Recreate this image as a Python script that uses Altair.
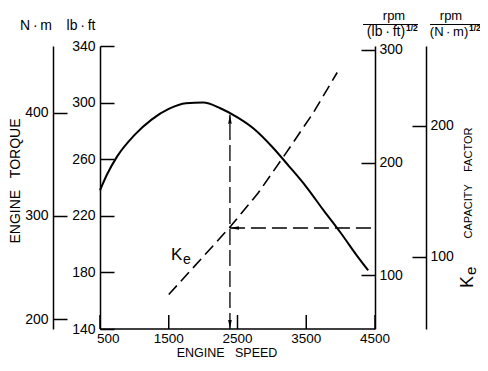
import altair as alt
import pandas as pd

# ---------------- data ----------------
rpm_torque = [500, 600, 750, 1000, 1250, 1500, 1750, 2000, 2250, 2500,
              2750, 3000, 3250, 3500, 3750, 4000, 4250, 4400]
torque_lbft = [238, 249, 262, 277, 288, 295.5, 299.5, 300, 296, 289.5,
               281, 269, 255, 240.5, 224, 208, 191, 181.5]

rpm_ke = [1500, 2000, 2400, 2800, 3200, 3600, 3950]
ke_lbft = [83, 116.5, 143.5, 173, 208, 244, 280]

op_rpm = [2390]
op_torque = [291.5]
op_base = [140]
op_ke = [142]
op_end = [4500]

x_ticks = [500, 1500, 2500, 3500, 4500]
lbft_ticks = [140, 180, 220, 260, 300, 340]
nm_ticks = [200, 300, 400]
ke_lbft_ticks = [100, 200, 300]
ke_nm_ticks = [100, 200]

LBFT_TO_NM = 1.35582
SQRT_LBFT_TO_NM = 1.16440

# ---------------- layout ----------------
W, H = 275, 283
TICK = 14
FONT = "Liberation Sans"


def xs():
    return alt.Scale(domain=[500, 4500], nice=False, zero=False)


def s_lbft():
    return alt.Scale(domain=[140, 340], nice=False, zero=False)


def s_nm():
    return alt.Scale(domain=[190.4, 464.4], nice=False, zero=False)


def s_kl():
    return alt.Scale(domain=[52.4, 303.5], nice=False, zero=False)


def s_kn():
    return alt.Scale(domain=[52.4 / SQRT_LBFT_TO_NM, 303.5 / SQRT_LBFT_TO_NM], nice=False, zero=False)


def left_axis(values, at):
    # axis line at pixel x=at, ticks pointing right, labels on the left
    return alt.Axis(orient="right", offset=at - W, values=values, tickSize=TICK,
                    labelPadding=-(TICK + 5), labelAlign="right", labelBaseline="middle",
                    title=None, grid=False, labelOverlap=False)


def right_axis(values, at):
    # axis line at pixel x=at, ticks pointing left, labels on the right
    return alt.Axis(orient="left", offset=-at, values=values, tickSize=TICK,
                    labelPadding=-(TICK + 4), labelAlign="left", labelBaseline="middle",
                    title=None, grid=False, labelOverlap=False)


df_t = pd.DataFrame({"rpm": rpm_torque, "lbft": torque_lbft})
df_t["nm"] = df_t["lbft"] * LBFT_TO_NM
df_k = pd.DataFrame({"rpm": rpm_ke, "k": ke_lbft})
df_k["kn"] = df_k["k"] / SQRT_LBFT_TO_NM
df_op = pd.DataFrame({"rpm": op_rpm, "torque": op_torque, "base": op_base,
                      "ke": op_ke, "rpm_end": op_end})
df_xt = pd.DataFrame({"rpm": x_ticks, "label": [str(v) for v in x_ticks]})
df_xd = pd.DataFrame({"x0": [x_ticks[0]], "x1": [x_ticks[-1]]})


def X(field="rpm:Q"):
    return alt.X(field, scale=xs(), axis=None)


ARROW_UP = "M0,-1L0.4,1L-0.4,1Z"
ARROW_DOWN = "M0,1L0.4,-1L-0.4,-1Z"
ARROW_LEFT = "M-1,0L1,-0.4L1,0.4Z"

# engine-speed axis: baseline, inward ticks, labels
x_domain = alt.Chart(df_xd).mark_rule(color="black", strokeWidth=1.5).encode(
    x=X("x0:Q"), x2="x1:Q", y=alt.value(H))
x_tickmarks = alt.Chart(df_xt).mark_rule(color="black", strokeWidth=1.5).encode(
    x=X(), y=alt.value(H), y2=alt.value(H - TICK))
x_label_first = alt.Chart(df_xt.iloc[:1]).mark_text(
    align="left", baseline="top", dx=-3, font=FONT, fontSize=13.5, color="black").encode(
    x=X(), y=alt.value(H + 3), text="label:N")
x_label_rest = alt.Chart(df_xt.iloc[1:]).mark_text(
    align="center", baseline="top", font=FONT, fontSize=13.5, color="black").encode(
    x=X(), y=alt.value(H + 3), text="label:N")

# torque in lb.ft
torque_line = alt.Chart(df_t).mark_line(color="black", strokeWidth=2, interpolate="monotone").encode(
    x=X(), y=alt.Y("lbft:Q", scale=s_lbft(), axis=left_axis(lbft_ticks, 0)))
vrule = alt.Chart(df_op).mark_rule(color="black", strokeWidth=1.3, strokeDash=[16, 5]).encode(
    x=X(), y=alt.Y("base:Q", scale=s_lbft(), axis=None), y2="torque:Q")
arrow_up = alt.Chart(df_op).mark_point(shape=ARROW_UP, size=81, filled=True, color="black",
                                       opacity=1, yOffset=4.5).encode(
    x=X(), y=alt.Y("torque:Q", scale=s_lbft(), axis=None))
arrow_down = alt.Chart(df_op).mark_point(shape=ARROW_DOWN, size=81, filled=True, color="black",
                                         opacity=1, yOffset=-4.5).encode(
    x=X(), y=alt.Y("base:Q", scale=s_lbft(), axis=None))

# N.m axis
nm_layer = alt.Chart(df_t).mark_line(strokeOpacity=0).encode(
    x=X(), y=alt.Y("nm:Q", scale=s_nm(), axis=left_axis(nm_ticks, -47)))

# Ke in rpm/(lb.ft)^1/2
ke_line = alt.Chart(df_k).mark_line(color="black", strokeWidth=1.6, strokeDash=[12, 6]).encode(
    x=X(), y=alt.Y("k:Q", scale=s_kl(), axis=right_axis(ke_lbft_ticks, W)))
hrule = alt.Chart(df_op).mark_rule(color="black", strokeWidth=1.3, strokeDash=[15, 6]).encode(
    x=X(), x2="rpm_end:Q", y=alt.Y("ke:Q", scale=s_kl(), axis=None))
arrow_left = alt.Chart(df_op).mark_point(shape=ARROW_LEFT, size=81, filled=True, color="black",
                                         opacity=1, xOffset=4.5).encode(
    x=X(), y=alt.Y("ke:Q", scale=s_kl(), axis=None))

# Ke in rpm/(N.m)^1/2 axis
kn_layer = alt.Chart(df_k).mark_line(strokeOpacity=0).encode(
    x=X(), y=alt.Y("kn:Q", scale=s_kn(), axis=right_axis(ke_nm_ticks, 326)))

one = alt.Data(values=[{}])


def txt(s, x, y, size=14, angle=0, align="center", baseline="alphabetic", weight="normal"):
    return alt.Chart(one).mark_text(text=s, fontSize=size, angle=angle, align=align,
                                    baseline=baseline, font=FONT, color="black",
                                    fontWeight=weight).encode(x=alt.value(x), y=alt.value(y))


def bar(x1, x2, y):
    return alt.Chart(one).mark_rule(color="black", strokeWidth=1.2).encode(
        x=alt.value(x1), x2=alt.value(x2), y=alt.value(y))


NB = "\u00a0"
TS = "\u2009"
texts = [
    txt("N" + TS + "·" + TS + "m", -64, -16),
    txt("lb" + TS + "·" + TS + "ft", -19, -16),
    txt("ENGINE" + NB * 3 + "TORQUE", -84, 135, angle=270, baseline="middle"),
    txt("ENGINE" + NB * 3 + "SPEED", 127, 310.5, size=12.5),
    txt("rpm", 294, -26, size=13),
    bar(263, 318, -21.5),
    txt("(lb" + TS + "·" + TS + "ft)", 286, -10),
    txt("1/2", 306, -15.5, size=8.5, align="left", weight="bold"),
    txt("rpm", 351, -26, size=13),
    bar(330, 380, -21.5),
    txt("(N" + TS + "·" + TS + "m)", 349, -10, size=13),
    txt("1/2", 369, -15.5, size=8.5, align="left", weight="bold"),
    txt("K", 71, 214, size=17, align="left"),
    txt("e", 83, 218, size=14, align="left"),
    txt("K", 373, 242, size=18, angle=270, align="left"),
    txt("e", 376, 229, size=15, angle=270, align="left"),
    txt("CAPACITY" + NB * 4 + "FACTOR", 369, 137, size=11, angle=270, baseline="middle"),
]

chart = alt.layer(
    torque_line, vrule, arrow_up, arrow_down, nm_layer,
    ke_line, hrule, arrow_left, kn_layer,
    x_domain, x_tickmarks, x_label_first, x_label_rest, *texts
).resolve_scale(
    y="independent"
).properties(
    width=W, height=H,
    padding={"left": 92, "top": 38, "right": 105, "bottom": 29},
    autosize=alt.AutoSizeParams(type="none"),
).configure_view(strokeWidth=0).configure_axis(
    domainColor="black", domainWidth=1.5, tickColor="black", tickWidth=1.5,
    labelColor="black", labelFont=FONT, labelFontSize=14, grid=False,
)

chart.save("out.html", embed_options={"renderer": "svg", "actions": False})
